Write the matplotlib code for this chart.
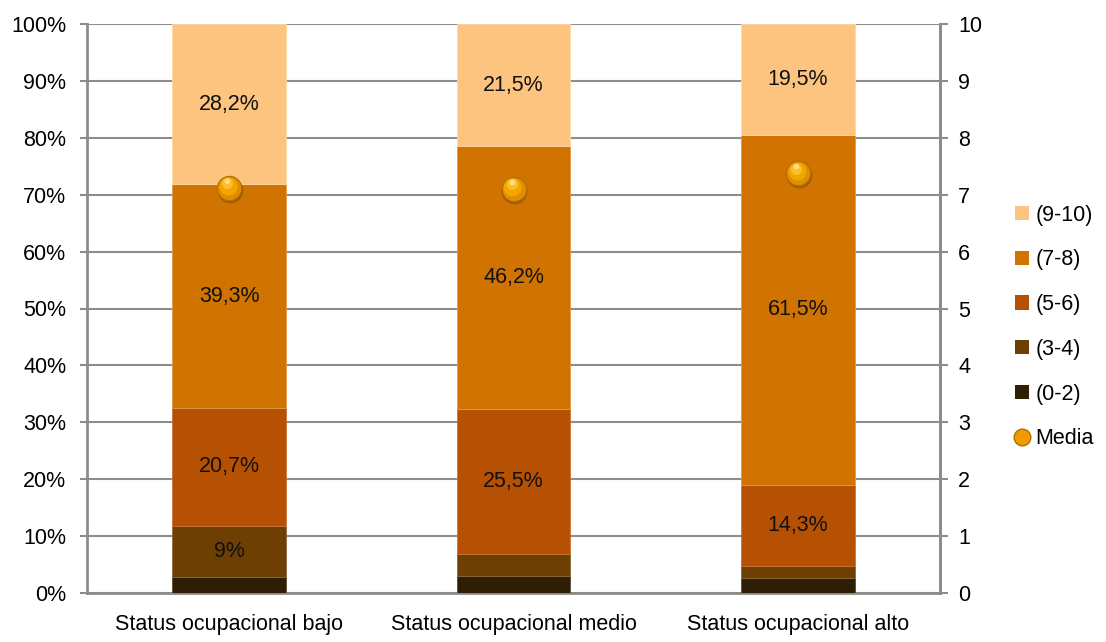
import matplotlib
matplotlib.use("Agg")
import matplotlib.pyplot as plt
from matplotlib.lines import Line2D
from matplotlib.patches import Patch
import numpy as np

plt.rcParams['font.family'] = ['Liberation Sans', 'DejaVu Sans']

categories = ["Status ocupacional bajo", "Status ocupacional medio", "Status ocupacional alto"]
series_names = ["(0-2)", "(3-4)", "(5-6)", "(7-8)", "(9-10)"]
v_0_2 = [2.8, 3.0, 2.7]
v_3_4 = [9.0, 3.8, 2.0]
v_5_6 = [20.7, 25.5, 14.3]
v_7_8 = [39.3, 46.2, 61.5]
v_9_10 = [28.2, 21.5, 19.5]
label_0_2 = ["", "", ""]
label_3_4 = ["9%", "", ""]
label_5_6 = ["20,7%", "25,5%", "14,3%"]
label_7_8 = ["39,3%", "46,2%", "61,5%"]
label_9_10 = ["28,2%", "21,5%", "19,5%"]
media = [7.12, 7.1, 7.38]
left_ticks = [f"{v}%" for v in range(0, 101, 10)]
right_ticks = [str(v) for v in range(0, 11)]

colors = ["#2E1E03", "#6E3F02", "#B65104", "#D07300", "#FDC47F"]
edge_colors = ["#5A4A30", "#8C6A3A", "#C8753A", "#E09A50", "#FFD9A8"]
series = [v_0_2, v_3_4, v_5_6, v_7_8, v_9_10]
labels = [label_0_2, label_3_4, label_5_6, label_7_8, label_9_10]

FS = 15.5
fig = plt.figure(figsize=(11.06, 6.42), dpi=100)
ax = fig.add_axes([87/1106, 49/642, 853/1106, 569/642])
x = np.arange(len(categories))
grid_c = "#8C8C8C"

bottom = np.zeros(len(categories))
for vals, col, ec, labs in zip(series, colors, edge_colors, labels):
    vals = np.array(vals)
    ax.bar(x, vals, width=0.4, bottom=bottom, color=col, edgecolor=ec, linewidth=0.6, zorder=3)
    for xi, b, v, lab in zip(x, bottom, vals, labs):
        if lab:
            ax.text(xi, b + v / 2, lab, ha='center', va='center', fontsize=FS, color='#111111', zorder=5)
    bottom += vals

ax.set_xlim(-0.5, 2.5)
ax.set_ylim(0, 100)
ax.set_yticks(range(0, 101, 10))
ax.set_yticklabels(left_ticks, fontsize=FS)
ax.set_xticks(x)
ax.set_xticklabels(categories, fontsize=FS)
ax.tick_params(axis='x', length=0, pad=15)
ax.tick_params(axis='y', length=5, width=1.5, color=grid_c, pad=10)
ax.grid(axis='y', color=grid_c, linewidth=1.5, zorder=0)
ax.spines['top'].set_visible(False)
for s in ['left', 'right', 'bottom']:
    ax.spines[s].set_color(grid_c)
    ax.spines[s].set_linewidth(2)

ax2 = ax.twinx()
ax2.set_ylim(0, 10)
ax2.set_yticks(range(0, 11))
ax2.set_yticklabels(right_ticks, fontsize=FS)
ax2.tick_params(axis='y', length=6, width=1.5, color=grid_c, pad=7)
for s in ['top', 'left', 'bottom']:
    ax2.spines[s].set_visible(False)
ax2.spines['right'].set_color(grid_c)
ax2.spines['right'].set_linewidth(2)

# glossy sphere effect for the mean markers
m = np.array(media)
ax2.plot(x + 0.003, m - 0.04, linestyle='none', marker='o', markersize=18.5,
         markerfacecolor='#6A4005', markeredgewidth=0, alpha=0.45, zorder=6)
ax2.plot(x, m, linestyle='none', marker='o', markersize=17.5,
         markerfacecolor='#E08E00', markeredgecolor='#B07000', markeredgewidth=0.8, zorder=6)
ax2.plot(x - 0.004, m + 0.04, linestyle='none', marker='o', markersize=13,
         markerfacecolor='#F4A400', markeredgewidth=0, zorder=7)
ax2.plot(x - 0.006, m + 0.08, linestyle='none', marker='o', markersize=8,
         markerfacecolor='#FDBE2A', markeredgewidth=0, zorder=8)
ax2.plot(x - 0.007, m + 0.12, linestyle='none', marker='o', markersize=4,
         markerfacecolor='#FFE08A', markeredgewidth=0, zorder=9)

handles = [Patch(facecolor=c, edgecolor='none') for c in colors[::-1]]
names = series_names[::-1]
handles.append(Line2D([], [], linestyle='none', marker='o', markersize=12,
                      markerfacecolor='#F09A00', markeredgecolor='#B07000'))
names.append("Media")
fig.legend(handles, names, loc='center left', bbox_to_anchor=(1015/1106, 1 - 327/642),
           frameon=False, fontsize=FS, handlelength=0.65, handleheight=0.65,
           handletextpad=0.3, labelspacing=1.1, borderaxespad=0, borderpad=0)

fig.savefig("out.png", dpi=100)
